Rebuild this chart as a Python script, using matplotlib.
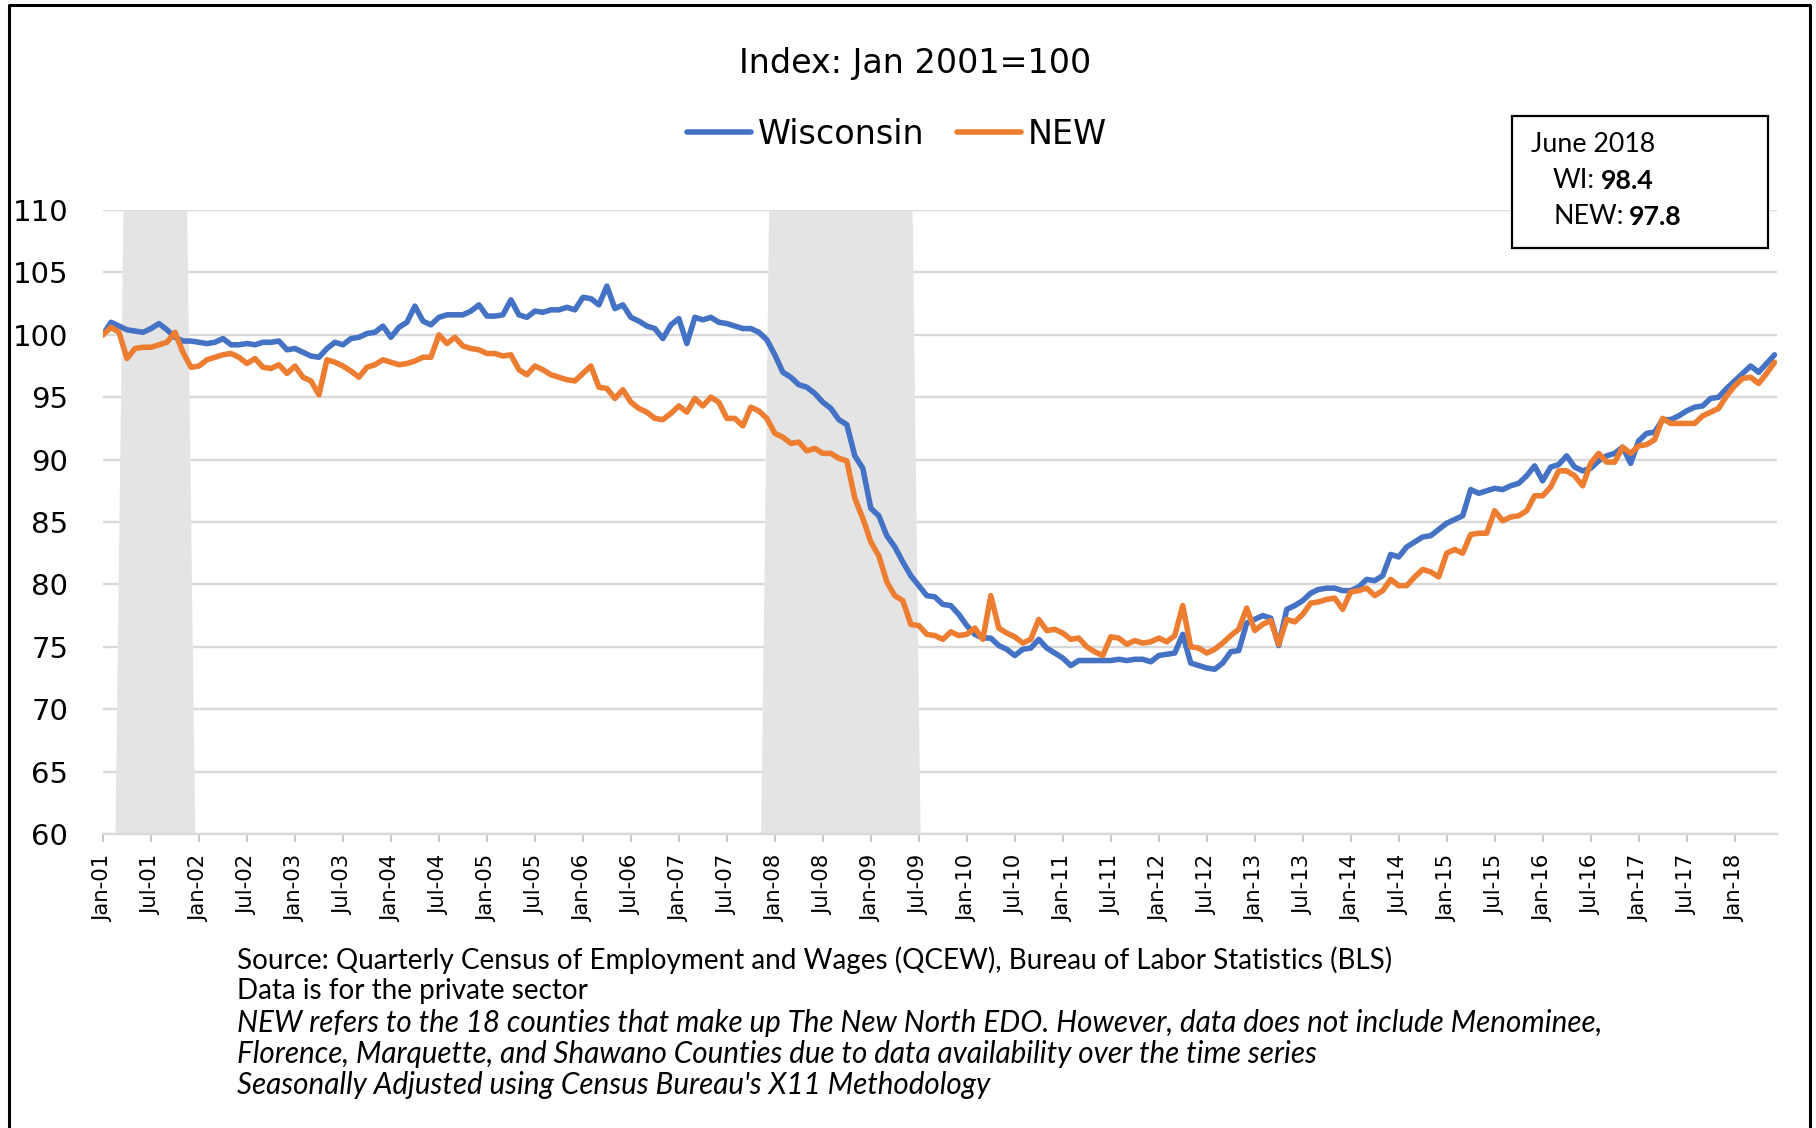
import numpy as np
import pandas as pd
import matplotlib
matplotlib.use("Agg")
import matplotlib.pyplot as plt
import matplotlib.transforms as mtransforms
from matplotlib.lines import Line2D
from matplotlib.patches import Rectangle
from matplotlib.text import Annotation

# monthly index, Jan 2001 = 100 (one row per year)
wisconsin = [
    100.0, 101.0, 100.7, 100.4, 100.3, 100.2, 100.5, 100.9, 100.4, 99.8, 99.5, 99.5,
    99.4, 99.3, 99.4, 99.7, 99.2, 99.2, 99.3, 99.2, 99.4, 99.4, 99.5, 98.8,
    98.9, 98.6, 98.3, 98.2, 98.9, 99.4, 99.2, 99.7, 99.8, 100.1, 100.2, 100.7,
    99.8, 100.6, 101.0, 102.3, 101.1, 100.8, 101.4, 101.6, 101.6, 101.6, 101.9, 102.4,
    101.5, 101.5, 101.6, 102.8, 101.6, 101.4, 101.9, 101.8, 102.0, 102.0, 102.2, 102.0,
    103.0, 102.9, 102.4, 103.9, 102.1, 102.4, 101.4, 101.1, 100.7, 100.5, 99.7, 100.8,
    101.3, 99.3, 101.4, 101.2, 101.4, 101.0, 100.9, 100.7, 100.5, 100.5, 100.2, 99.6,
    98.4, 97.0, 96.6, 96.0, 95.8, 95.3, 94.6, 94.1, 93.2, 92.8, 90.3, 89.3,
    86.1, 85.5, 83.9, 83.0, 81.8, 80.7, 79.9, 79.1, 79.0, 78.4, 78.3, 77.6,
    76.7, 76.0, 75.7, 75.7, 75.1, 74.8, 74.3, 74.8, 74.9, 75.6, 74.9, 74.5,
    74.1, 73.5, 73.9, 73.9, 73.9, 73.9, 73.9, 74.0, 73.9, 74.0, 74.0, 73.8,
    74.3, 74.4, 74.5, 76.0, 73.7, 73.5, 73.3, 73.2, 73.7, 74.6, 74.7, 76.9,
    77.2, 77.5, 77.3, 75.1, 78.0, 78.3, 78.7, 79.3, 79.6, 79.7, 79.7, 79.5,
    79.5, 79.8, 80.4, 80.3, 80.7, 82.4, 82.2, 83.0, 83.4, 83.8, 83.9, 84.4,
    84.9, 85.2, 85.5, 87.6, 87.3, 87.5, 87.7, 87.6, 87.9, 88.1, 88.7, 89.5,
    88.3, 89.4, 89.6, 90.3, 89.4, 89.1, 89.3, 89.9, 90.3, 90.5, 91.0, 89.7,
    91.5, 92.1, 92.2, 93.2, 93.2, 93.5, 93.9, 94.2, 94.3, 94.9, 95.0, 95.7,
    96.3, 96.9, 97.5, 97.0, 97.7, 98.4,
]
new_north = [
    100.0, 100.6, 100.2, 98.1, 98.9, 99.0, 99.0, 99.2, 99.4, 100.2, 98.6, 97.4,
    97.5, 98.0, 98.2, 98.4, 98.5, 98.2, 97.7, 98.1, 97.4, 97.3, 97.6, 96.9,
    97.5, 96.6, 96.3, 95.2, 98.0, 97.8, 97.5, 97.1, 96.6, 97.4, 97.6, 98.0,
    97.8, 97.6, 97.7, 97.9, 98.2, 98.2, 100.0, 99.3, 99.8, 99.1, 98.9, 98.8,
    98.5, 98.5, 98.3, 98.4, 97.2, 96.8, 97.5, 97.2, 96.8, 96.6, 96.4, 96.3,
    96.9, 97.5, 95.8, 95.7, 94.9, 95.6, 94.6, 94.1, 93.8, 93.3, 93.2, 93.7,
    94.3, 93.8, 94.9, 94.3, 95.0, 94.6, 93.3, 93.3, 92.7, 94.2, 93.9, 93.3,
    92.1, 91.8, 91.3, 91.4, 90.7, 90.9, 90.5, 90.5, 90.1, 89.9, 86.9, 85.3,
    83.4, 82.3, 80.2, 79.1, 78.7, 76.8, 76.7, 76.0, 75.9, 75.6, 76.2, 75.9,
    76.0, 76.5, 75.6, 79.1, 76.5, 76.1, 75.8, 75.3, 75.6, 77.2, 76.3, 76.4,
    76.1, 75.6, 75.7, 75.0, 74.6, 74.3, 75.8, 75.7, 75.2, 75.5, 75.3, 75.4,
    75.7, 75.4, 75.9, 78.3, 75.0, 74.9, 74.5, 74.8, 75.3, 75.9, 76.4, 78.1,
    76.3, 76.8, 77.1, 75.2, 77.2, 77.0, 77.6, 78.5, 78.6, 78.8, 78.9, 78.0,
    79.4, 79.5, 79.7, 79.1, 79.5, 80.4, 79.9, 79.9, 80.6, 81.2, 81.0, 80.6,
    82.5, 82.8, 82.5, 84.0, 84.1, 84.1, 85.9, 85.1, 85.4, 85.5, 85.9, 87.1,
    87.1, 87.8, 89.1, 89.1, 88.7, 87.9, 89.7, 90.5, 89.8, 89.8, 91.0, 90.5,
    91.1, 91.2, 91.6, 93.3, 92.9, 92.9, 92.9, 92.9, 93.5, 93.8, 94.1, 95.1,
    95.9, 96.5, 96.6, 96.1, 96.9, 97.8,
]
months = pd.date_range("2001-01-01", periods=len(wisconsin), freq="MS")
recessions = [("2001-03-01", "2001-11-01"), ("2007-12-01", "2009-06-01")]

title = "Index: Jan 2001=100"
box_lines = [("June 2018", None), ("WI:", "98.4"), ("NEW:", "97.8")]
footnotes = [
    "Source: Quarterly Census of Employment and Wages (QCEW), Bureau of Labor Statistics (BLS)",
    "Data is for the private sector",
    "NEW refers to the 18 counties that make up The New North EDO. However, data does not include Menominee,",
    "Florence, Marquette, and Shawano Counties due to data availability over the time series",
    "Seasonally Adjusted using Census Bureau's X11 Methodology",
]
n_plain = 2

W, H = 1816, 1128
fig = plt.figure(figsize=(W / 100, H / 100), dpi=100)
ax = fig.add_axes([103 / W, (H - 834) / H, (1777 - 103) / W, (834 - 210) / H])

x = np.arange(len(months))
n = len(months)

# recession shading sits on its own 0-1 scale, one category per month
shade = np.zeros(n)
for start, end in recessions:
    shade[(months >= start) & (months <= end)] = 1
shade_trans = mtransforms.Affine2D().scale(1 / n, 1).translate(0.5 / n, 0) + ax.transAxes
ax.fill_between(x, 0, shade, color="#e4e4e4", lw=0, zorder=1, transform=shade_trans)

ax.plot(x, wisconsin, color="#4472C4", lw=4.0, label="Wisconsin", zorder=3,
        solid_joinstyle="round", solid_capstyle="round")
ax.plot(x, new_north, color="#ED7D31", lw=4.0, label="NEW", zorder=3,
        solid_joinstyle="round", solid_capstyle="round")

ax.set_ylim(60, 110)
ax.set_xlim(0, 209.3)
ax.set_yticks(range(60, 111, 5))
ax.yaxis.grid(True, color="#d9d9d9", lw=1.7)
ax.set_axisbelow(True)

ax.set_xticks(x[::6])
ax.set_xticklabels(months[::6].strftime("%b-%y"), rotation=90)
ax.tick_params(axis="x", direction="out", length=6, width=1.2, color="#bfbfbf",
               labelsize=15.3, pad=9)
ax.tick_params(axis="y", length=0, pad=25, labelsize=21)
for side in ["left", "right", "top"]:
    ax.spines[side].set_visible(False)
ax.spines["bottom"].set_color("#d9d9d9")
ax.spines["bottom"].set_linewidth(1.7)

fig.text(915 / W, 1 - 64 / H, title, ha="center", va="center", fontsize=24)
fig.legend(loc="center", bbox_to_anchor=(897 / W, 1 - 134 / H), ncol=2, frameon=False,
           fontsize=24, handlelength=1.9, handletextpad=0.2, columnspacing=1.0)

# annotation box
fig.patches.append(Rectangle((1512 / W, 1 - 248 / H), (1768 - 1512) / W, (248 - 116) / H,
                             transform=fig.transFigure, facecolor="white",
                             edgecolor="black", lw=1.6, zorder=5))
box_x = [1531, 1553, 1553]
box_y = [145, 181, 217]
for (label, value), bx, by in zip(box_lines, box_x, box_y):
    t = fig.text(bx / W, 1 - by / H, label, ha="left", va="center", fontsize=19.3,
                 family="Lato", zorder=6)
    if value:
        fig.add_artist(Annotation(value, xy=(1, 0), xycoords=t, xytext=(4, 0),
                                  textcoords="offset points", ha="left", va="bottom",
                                  fontsize=19.3, family="Lato", fontweight="bold",
                                  annotation_clip=False, zorder=6))

# footnotes
for k, line in enumerate(footnotes):
    italic = k >= n_plain
    fig.text(237 / W, 1 - (960 + 31.3 * k) / H, line, ha="left", va="center",
             fontsize=21.3 if italic else 20.1, family="Lato",
             style="italic" if italic else "normal")

# outer frame
fx = [9 / W, 9 / W, 1810 / W, 1810 / W]
fy = [0, 1 - 5 / H, 1 - 5 / H, 0]
fig.lines.append(Line2D(fx, fy, transform=fig.transFigure, color="black", lw=2.2))

fig.savefig("out.png", dpi=100)
